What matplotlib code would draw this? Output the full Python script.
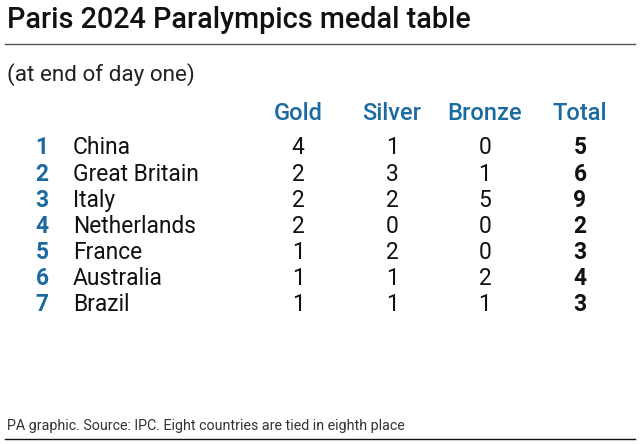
import matplotlib.pyplot as plt
from matplotlib.lines import Line2D

plt.rcParams['font.family'] = ['Roboto', 'DejaVu Sans']

# data
ranks = [1, 2, 3, 4, 5, 6, 7]
countries = ['China', 'Great Britain', 'Italy', 'Netherlands', 'France', 'Australia', 'Brazil']
gold = [4, 2, 2, 2, 1, 1, 1]
silver = [1, 3, 2, 0, 2, 1, 1]
bronze = [0, 1, 5, 0, 0, 2, 1]
total = [5, 6, 9, 2, 3, 4, 3]
headers = ['Gold', 'Silver', 'Bronze', 'Total']

W, H = 640, 444
blue = '#1b6aa0'
fig = plt.figure(figsize=(W / 100, H / 100), dpi=100)
fig.patch.set_facecolor('white')


def txt(x, y, s, **kw):
    # pixel coordinates, y from the top
    fig.text(x / W, 1 - y / H, s, **kw)


txt(7, 20, 'Paris 2024 Paralympics medal table', fontsize=20.7, fontweight='medium',
    va='center', ha='left', color='#111111')
fig.add_artist(Line2D([5 / W, 635 / W], [1 - 44 / H, 1 - 44 / H], color='#555555', lw=1))
txt(7, 75, '(at end of day one)', fontsize=16.2, va='center', ha='left', color='#222222')

col_x = [298, 392, 485, 580]
for x, h in zip(col_x, headers):
    txt(x, 113, h, fontsize=17, fontweight='medium', color=blue, ha='center', va='center')

row_y0, row_dy = 148, 26.1
for i in range(len(countries)):
    y = row_y0 + i * row_dy
    txt(42, y, str(ranks[i]), fontsize=16.4, fontweight='bold', color=blue, ha='center', va='center')
    txt(73, y, countries[i], fontsize=16.4, color='#111111', ha='left', va='center')
    vals = [gold[i], silver[i], bronze[i]]
    for x, v in zip(col_x[:3], vals):
        txt(x, y, str(v), fontsize=16.4, color='#111111', ha='center', va='center')
    txt(col_x[3], y, str(total[i]), fontsize=16.4, fontweight='bold', color='#111111',
        ha='center', va='center')

txt(7, 426, 'PA graphic. Source: IPC. Eight countries are tied in eighth place',
    fontsize=10.3, color='#333333', ha='left', va='center')
fig.add_artist(Line2D([5 / W, 635 / W], [1 - 439 / H, 1 - 439 / H], color='#111111', lw=1))

fig.savefig('out.png', dpi=100, facecolor='white')
